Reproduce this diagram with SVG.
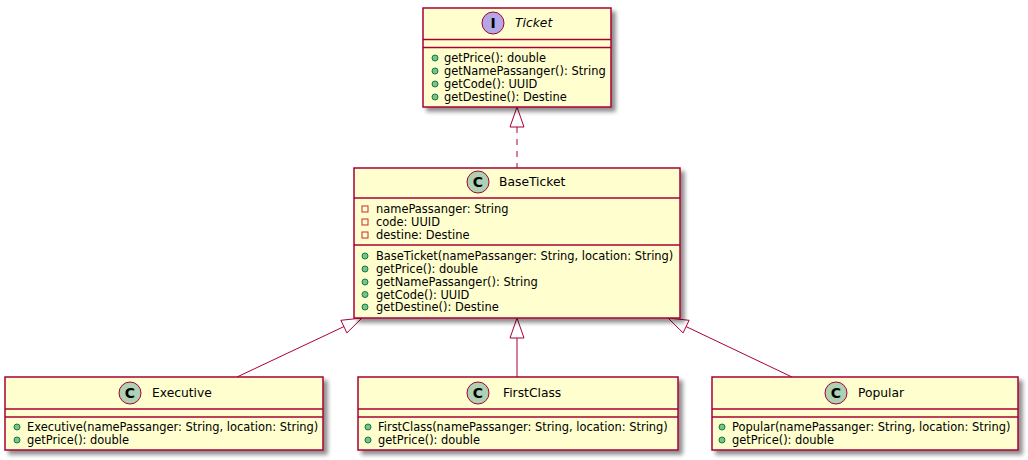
<svg xmlns="http://www.w3.org/2000/svg" width="1028" height="460" viewBox="0 0 1028 460">
<defs>
<filter id="sh" x="-5%" y="-5%" width="115%" height="125%">
<feGaussianBlur in="SourceAlpha" stdDeviation="2"/>
<feOffset dx="4" dy="4" result="b"/>
<feComponentTransfer in="b" result="c"><feFuncA type="linear" slope="0.45"/></feComponentTransfer>
<feMerge><feMergeNode in="c"/><feMergeNode in="SourceGraphic"/></feMerge>
</filter>
<g id="pub"><circle r="3" fill="#84BE84" stroke="#038048" stroke-width="1"/></g>
<g id="priv"><rect x="-3" y="-3" width="6" height="6" fill="none" stroke="#C82930" stroke-width="1"/></g>
</defs>
<style>
.box{fill:#FEFECE;stroke:#A80036;stroke-width:1.5}
.sep{stroke:#A80036;stroke-width:1.5}
.t{font-family:"DejaVu Sans",Verdana,sans-serif;font-size:11.45px;font-weight:normal;fill:#000}
.title{font-family:"DejaVu Sans",Verdana,sans-serif;font-size:12.3px;font-weight:normal;fill:#000}
.ic{stroke:#A80036;stroke-width:1}
.ltr{font-family:"DejaVu Sans",sans-serif;font-size:14px;font-weight:bold;fill:#000;text-anchor:middle}
.edge{fill:none;stroke:#A80036;stroke-width:1}
.head{fill:none;stroke:#A80036;stroke-width:1}
</style>

<g id="connectors">
<line class="edge" x1="517" y1="127" x2="517" y2="168" stroke-dasharray="6,6"/>
<polygon class="head" points="517,107 510,127 524,127"/>
<line class="edge" x1="237" y1="377" x2="343.9" y2="326.6"/>
<polygon class="head" points="362,318 346.9,332.9 340.9,320.3"/>
<line class="edge" x1="517" y1="338" x2="517" y2="377"/>
<polygon class="head" points="517,318 510,338 524,338"/>
<line class="edge" x1="792" y1="377" x2="686.1" y2="326.6"/>
<polygon class="head" points="668,318 689.1,320.3 683.1,332.9"/>
</g>

<g id="Ticket">
<rect class="box" x="423" y="8" width="188" height="99" filter="url(#sh)"/>
<line class="sep" x1="423" y1="39.5" x2="611" y2="39.5"/>
<line class="sep" x1="423" y1="47.5" x2="611" y2="47.5"/>
<circle class="ic" cx="493" cy="23" r="11" fill="#B4A7E5"/>
<text class="ltr" x="493" y="28">I</text>
<text class="title" x="515" y="27" font-style="italic">Ticket</text>
<use href="#pub" x="435" y="58"/><text class="t" x="444" y="62">getPrice(): double</text>
<use href="#pub" x="435" y="71"/><text class="t" x="444" y="75">getNamePassanger(): String</text>
<use href="#pub" x="435" y="84"/><text class="t" x="444" y="88">getCode(): UUID</text>
<use href="#pub" x="435" y="97"/><text class="t" x="444" y="101">getDestine(): Destine</text>
</g>

<g id="BaseTicket">
<rect class="box" x="354" y="168" width="326" height="150" filter="url(#sh)"/>
<line class="sep" x1="354" y1="198" x2="680" y2="198"/>
<line class="sep" x1="354" y1="245" x2="680" y2="245"/>
<circle class="ic" cx="478" cy="182" r="11" fill="#ADD1B2"/>
<text class="ltr" x="478" y="187">C</text>
<text class="title" x="499" y="186">BaseTicket</text>
<use href="#priv" x="365" y="209"/><text class="t" x="376" y="213">namePassanger: String</text>
<use href="#priv" x="365" y="222"/><text class="t" x="376" y="226">code: UUID</text>
<use href="#priv" x="365" y="235"/><text class="t" x="376" y="239">destine: Destine</text>
<use href="#pub" x="365" y="256"/><text class="t" x="376" y="260">BaseTicket(namePassanger: String, location: String)</text>
<use href="#pub" x="365" y="269"/><text class="t" x="376" y="273">getPrice(): double</text>
<use href="#pub" x="365" y="282"/><text class="t" x="376" y="286">getNamePassanger(): String</text>
<use href="#pub" x="365" y="294.5"/><text class="t" x="376" y="298.5">getCode(): UUID</text>
<use href="#pub" x="365" y="307"/><text class="t" x="376" y="311">getDestine(): Destine</text>
</g>

<g id="Executive">
<rect class="box" x="5" y="377" width="318" height="73" filter="url(#sh)"/>
<line class="sep" x1="5" y1="409" x2="323" y2="409"/>
<line class="sep" x1="5" y1="417" x2="323" y2="417"/>
<circle class="ic" cx="130" cy="393" r="11" fill="#ADD1B2"/>
<text class="ltr" x="130" y="398">C</text>
<text class="title" x="152" y="397">Executive</text>
<use href="#pub" x="17" y="427"/><text class="t" x="27" y="431">Executive(namePassanger: String, location: String)</text>
<use href="#pub" x="17" y="440"/><text class="t" x="27" y="444">getPrice(): double</text>
</g>

<g id="FirstClass">
<rect class="box" x="358" y="377" width="320" height="73" filter="url(#sh)"/>
<line class="sep" x1="358" y1="409" x2="678" y2="409"/>
<line class="sep" x1="358" y1="417" x2="678" y2="417"/>
<circle class="ic" cx="478" cy="393" r="11" fill="#ADD1B2"/>
<text class="ltr" x="478" y="398">C</text>
<text class="title" x="503" y="397">FirstClass</text>
<use href="#pub" x="368" y="427"/><text class="t" x="378" y="431">FirstClass(namePassanger: String, location: String)</text>
<use href="#pub" x="368" y="440"/><text class="t" x="378" y="444">getPrice(): double</text>
</g>

<g id="Popular">
<rect class="box" x="712" y="377" width="306" height="73" filter="url(#sh)"/>
<line class="sep" x1="712" y1="409" x2="1018" y2="409"/>
<line class="sep" x1="712" y1="417" x2="1018" y2="417"/>
<circle class="ic" cx="836" cy="393" r="11" fill="#ADD1B2"/>
<text class="ltr" x="836" y="398">C</text>
<text class="title" x="858" y="397">Popular</text>
<use href="#pub" x="722" y="427"/><text class="t" x="732" y="431">Popular(namePassanger: String, location: String)</text>
<use href="#pub" x="722" y="440"/><text class="t" x="732" y="444">getPrice(): double</text>
</g>
</svg>
